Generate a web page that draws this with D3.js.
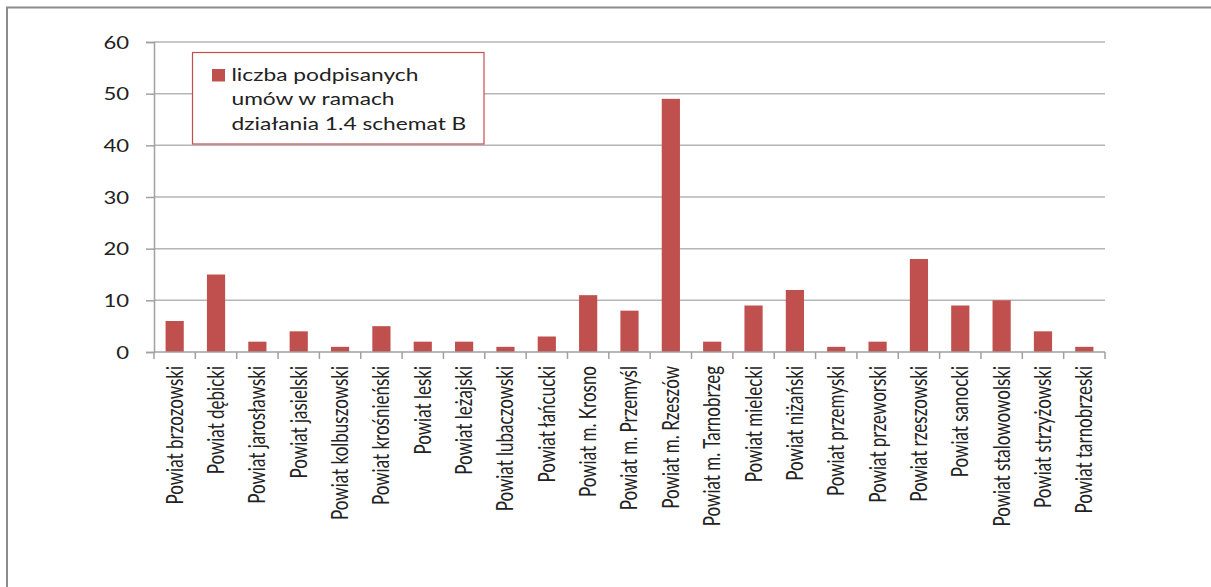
<!DOCTYPE html>
<html>
<head>
<meta charset="utf-8">
<script src="https://cdn.jsdelivr.net/npm/d3@7"></script>
<style>
  html, body { margin: 0; padding: 0; background: #fff; }
  svg { display: block; }
  text { font-family: Lato, "Open Sans", sans-serif; fill: #222; }
</style>
</head>
<body>
<svg id="chart" width="1211" height="587"></svg>
<script>
const categories = [
  "Powiat brzozowski", "Powiat dębicki", "Powiat jarosławski", "Powiat jasielski",
  "Powiat kolbuszowski", "Powiat krośnieński", "Powiat leski", "Powiat leżajski",
  "Powiat lubaczowski", "Powiat łańcucki", "Powiat m. Krosno", "Powiat m. Przemyśl",
  "Powiat m. Rzeszów", "Powiat m. Tarnobrzeg", "Powiat mielecki", "Powiat niżański",
  "Powiat przemyski", "Powiat przeworski", "Powiat rzeszowski", "Powiat sanocki",
  "Powiat stalowowolski", "Powiat strzyżowski", "Powiat tarnobrzeski"
];
const values = [6, 15, 2, 4, 1, 5, 2, 2, 1, 3, 11, 8, 49, 2, 9, 12, 1, 2, 18, 9, 10, 4, 1];
const yTicks = [0, 10, 20, 30, 40, 50, 60];
const legendLines = ["liczba podpisanych", "umów w ramach", "działania 1.4 schemat B"];

const svg = d3.select("#chart");
const SX = 1.3; // horizontal stretch of the text in the reference

// outer frame
svg.append("rect").attr("x", 7).attr("y", 7.5).attr("width", 1220).attr("height", 600)
  .attr("fill", "none").attr("stroke", "#8c8c8c").attr("stroke-width", 2);

const x = d3.scaleBand().domain(categories).range([154, 1105])
  .paddingInner(0.56).paddingOuter(0.28);
const y = d3.scaleLinear().domain([0, 60]).range([352, 42]);

// gridlines
svg.append("g").selectAll("line").data(yTicks.filter(d => d > 0)).join("line")
  .attr("x1", 154).attr("x2", 1105)
  .attr("y1", d => y(d)).attr("y2", d => y(d))
  .attr("stroke", "#b5b5b5").attr("stroke-width", 1.5);

// y axis
const yAxis = svg.append("g").attr("transform", "translate(154,0)")
  .call(d3.axisLeft(y).tickValues(yTicks).tickSize(8).tickPadding(0));
yAxis.select(".domain").attr("stroke", "#a0a0a0").attr("stroke-width", 1.5);
yAxis.selectAll(".tick line").attr("stroke", "#a0a0a0").attr("stroke-width", 1.5);
yAxis.selectAll(".tick text")
  .attr("x", null).attr("dy", "0.36em")
  .attr("transform", `translate(-25,0) scale(${SX},1)`)
  .style("font-family", "Lato, sans-serif").style("font-size", "17px").attr("fill", "#222");

// bars
svg.append("g").selectAll("rect").data(values).join("rect")
  .attr("x", (d, i) => x(categories[i]))
  .attr("width", x.bandwidth())
  .attr("y", d => y(d))
  .attr("height", d => y(0) - y(d))
  .attr("fill", "#c0504d");

// x axis line and ticks at category boundaries
svg.append("line").attr("x1", 154).attr("x2", 1105).attr("y1", y(0)).attr("y2", y(0))
  .attr("stroke", "#a0a0a0").attr("stroke-width", 1.5);
const bounds = d3.range(categories.length + 1).map(i => x.range()[0] + i * x.step());
svg.append("g").selectAll("line").data(bounds).join("line")
  .attr("x1", d => d).attr("x2", d => d).attr("y1", y(0)).attr("y2", y(0) + 7)
  .attr("stroke", "#a0a0a0").attr("stroke-width", 1.5);

// x labels (rotated)
svg.append("g").selectAll("text").data(categories).join("text")
  .attr("transform", d => `translate(${x(d) + x.bandwidth() / 2},366) scale(${SX},1) rotate(-90)`)
  .attr("text-anchor", "end")
  .attr("dy", "0.36em")
  .style("font-size", "17px")
  .text(d => d);

// legend
const lg = svg.append("g");
lg.append("rect").attr("x", 192.5).attr("y", 52.5).attr("width", 291.5).attr("height", 91.5)
  .attr("fill", "#fff").attr("stroke", "#c0504d").attr("stroke-width", 1.2);
lg.append("rect").attr("x", 212).attr("y", 69).attr("width", 13).attr("height", 12.5)
  .attr("fill", "#c0504d");
lg.selectAll("text.lt").data(legendLines).join("text").attr("class", "lt")
  .attr("transform", (d, i) => `translate(231.5,${80.5 + i * 24.6}) scale(${SX},1)`)
  .style("font-size", "17.5px")
  .text(d => d);
</script>
</body>
</html>
